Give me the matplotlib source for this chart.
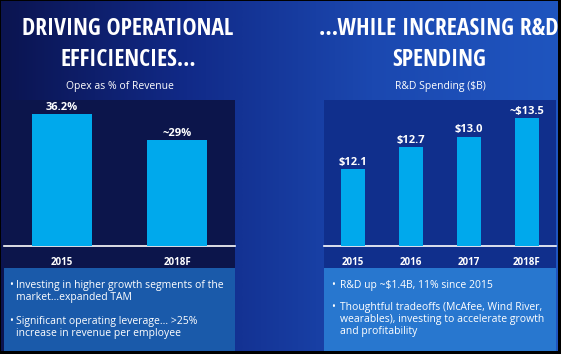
import numpy as np
import matplotlib
matplotlib.use("Agg")
from matplotlib import pyplot as plt
from matplotlib import font_manager as fm
from matplotlib.ft2font import FT2Font
from matplotlib.patches import Rectangle
from matplotlib.colors import LinearSegmentedColormap

# data
opex_years = ["2015", "2018F"]
opex_pct = [36.2, 29.0]
opex_labels = ["36.2%", "~29%"]

rd_years = ["2015", "2016", "2017", "2018F"]
rd_spend = [12.1, 12.7, 13.0, 13.5]
rd_labels = ["$12.1", "$12.7", "$13.0", "~$13.5"]

left_title = ["DRIVING OPERATIONAL", "EFFICIENCIES..."]
right_title = ["...WHILE INCREASING R&D", "SPENDING"]
left_sub = "Opex as % of Revenue"
right_sub = "R&D Spending ($B)"
left_bullets = ["Investing in higher growth segments of the\nmarket...expanded TAM",
                "Significant operating leverage... >25%\nincrease in revenue per employee"]
right_bullets = ["R&D up ~$1.4B, 11% since 2015",
                 "Thoughtful tradeoffs (McAfee, Wind River,\nwearables), investing to accelerate growth\nand profitability"]

W, H = 561, 354
fig = plt.figure(figsize=(W / 100, H / 100), dpi=100)
fig.patch.set_facecolor("black")
r = fig.canvas.get_renderer()

def fx(x):
    return x / W

def fy(y):
    return 1 - y / H

# background gradient
bg = fig.add_axes([fx(1), fy(351), fx(557), 350 / H], zorder=0)
cmap = LinearSegmentedColormap.from_list("bg", ["#0b1450", "#112a88", "#1b48b0", "#1f55bf"])
grad = np.linspace(0, 1, 256).reshape(1, -1)
bg.imshow(grad, aspect="auto", cmap=cmap, extent=[0, 1, 0, 1])
bg.axis("off")

def rect(x0, y0, x1, y1, color):
    bg.add_patch(Rectangle((fx(x0), fy(y1)), fx(x1 - x0), (y1 - y0) / H,
                           transform=fig.transFigure, facecolor=color,
                           edgecolor="none", zorder=2))

# chart panels and text boxes
rect(4, 100, 235, 268, "#0c154b")
rect(324, 100, 556, 268, "#102f8c")
rect(4, 268, 235, 351, "#1a5aaa")
rect(324, 268, 556, 351, "#2877cf")

bar_color = "#00a9ec"
tick_font = dict(family="Open Sans", weight="bold", size=7, color="white")
val_font = dict(family="Open Sans", weight="bold", size=8, color="white")

# left chart
ax1 = fig.add_axes([fx(4), fy(246), fx(231), 146 / H], zorder=2)
ax1.bar(range(len(opex_pct)), opex_pct, width=0.52, color=bar_color, zorder=3)
ax1.set_xlim(-0.5, 1.5)
ax1.set_ylim(0, 40)
for i, (v, lab) in enumerate(zip(opex_pct, opex_labels)):
    ax1.text(i, v + 0.3, lab, ha="center", va="bottom", **val_font)

# right chart
ax2 = fig.add_axes([fx(324), fy(246), fx(232), 146 / H], zorder=2)
ax2.bar(range(len(rd_spend)), rd_spend, width=0.43, color=bar_color, zorder=3)
ax2.set_xlim(-0.5, 3.5)
ax2.set_ylim(10, 14)
for i, (v, lab) in enumerate(zip(rd_spend, rd_labels)):
    ax2.text(i, v + 0.03, lab, ha="center", va="bottom", **val_font)

for ax, cats in [(ax1, opex_years), (ax2, rd_years)]:
    ax.set_facecolor("none")
    for s in ["top", "left", "right"]:
        ax.spines[s].set_visible(False)
    ax.spines["bottom"].set_color("white")
    ax.spines["bottom"].set_linewidth(1.2)
    ax.set_yticks([])
    ax.set_xticks(range(len(cats)))
    ax.set_xticklabels(cats, fontdict=tick_font)
    ax.tick_params(axis="x", length=0, pad=8)

# titles: the slide uses a tall condensed face, so take the narrowest bold latin one installed
ok_names = ("liberation sans", "dejavu sans", "roboto", "open sans", "noto sans", "lato", "inter")
need = set("".join(left_title + right_title))
probe = fig.text(0, 0, "DRIVING OPERATIONAL", size=24)
best, best_w = None, None
for f in fm.fontManager.ttflist:
    name = f.name.lower()
    if not name.startswith(ok_names) or "mono" in name or "cjk" in name:
        continue
    if f.weight not in (700, 800, 900, "bold", "heavy", "black") or f.style != "normal":
        continue
    try:
        ft = FT2Font(f.fname)
        if any(ft.get_char_index(ord(c)) == 0 for c in need):
            continue
        probe.set_fontproperties(fm.FontProperties(fname=f.fname, size=24))
        w = probe.get_window_extent(r).width
    except Exception:
        continue
    if best_w is None or w < best_w:
        best, best_w = f.fname, w
probe.remove()
title_prop = fm.FontProperties(fname=best) if best else fm.FontProperties(weight="bold")

# one text per title line, baselines where the slide has them; size fitted to the first line width
for lines, xc, target in [(left_title, 128, 211), (right_title, 439, 239)]:
    texts = [fig.text(fx(xc), fy(base), line, fontproperties=title_prop, size=24, color="white",
                      ha="center", va="baseline", zorder=5)
             for line, base in zip(lines, [35, 66])]
    size = 24 * target / texts[0].get_window_extent(r).width
    for t in texts:
        t.set_fontsize(size)

fig.text(fx(120), fy(87), left_sub, family="Open Sans", size=7.5, color="white",
         ha="center", va="center", zorder=5)
fig.text(fx(440), fy(87), right_sub, family="Open Sans", size=7.5, color="white",
         ha="center", va="center", zorder=5)

# bullet boxes
body = dict(family="Open Sans", size=7.5, color="white", va="top", linespacing=1.15, zorder=5)
for x_b, x_t, ys, items in [(9, 16, [280, 316], left_bullets),
                            (331, 340, [280, 302], right_bullets)]:
    for y, item in zip(ys, items):
        fig.text(fx(x_b), fy(y), "\u2022", **body)
        fig.text(fx(x_t), fy(y), item, **body)

fig.savefig("out.png", dpi=100, facecolor=fig.get_facecolor())
